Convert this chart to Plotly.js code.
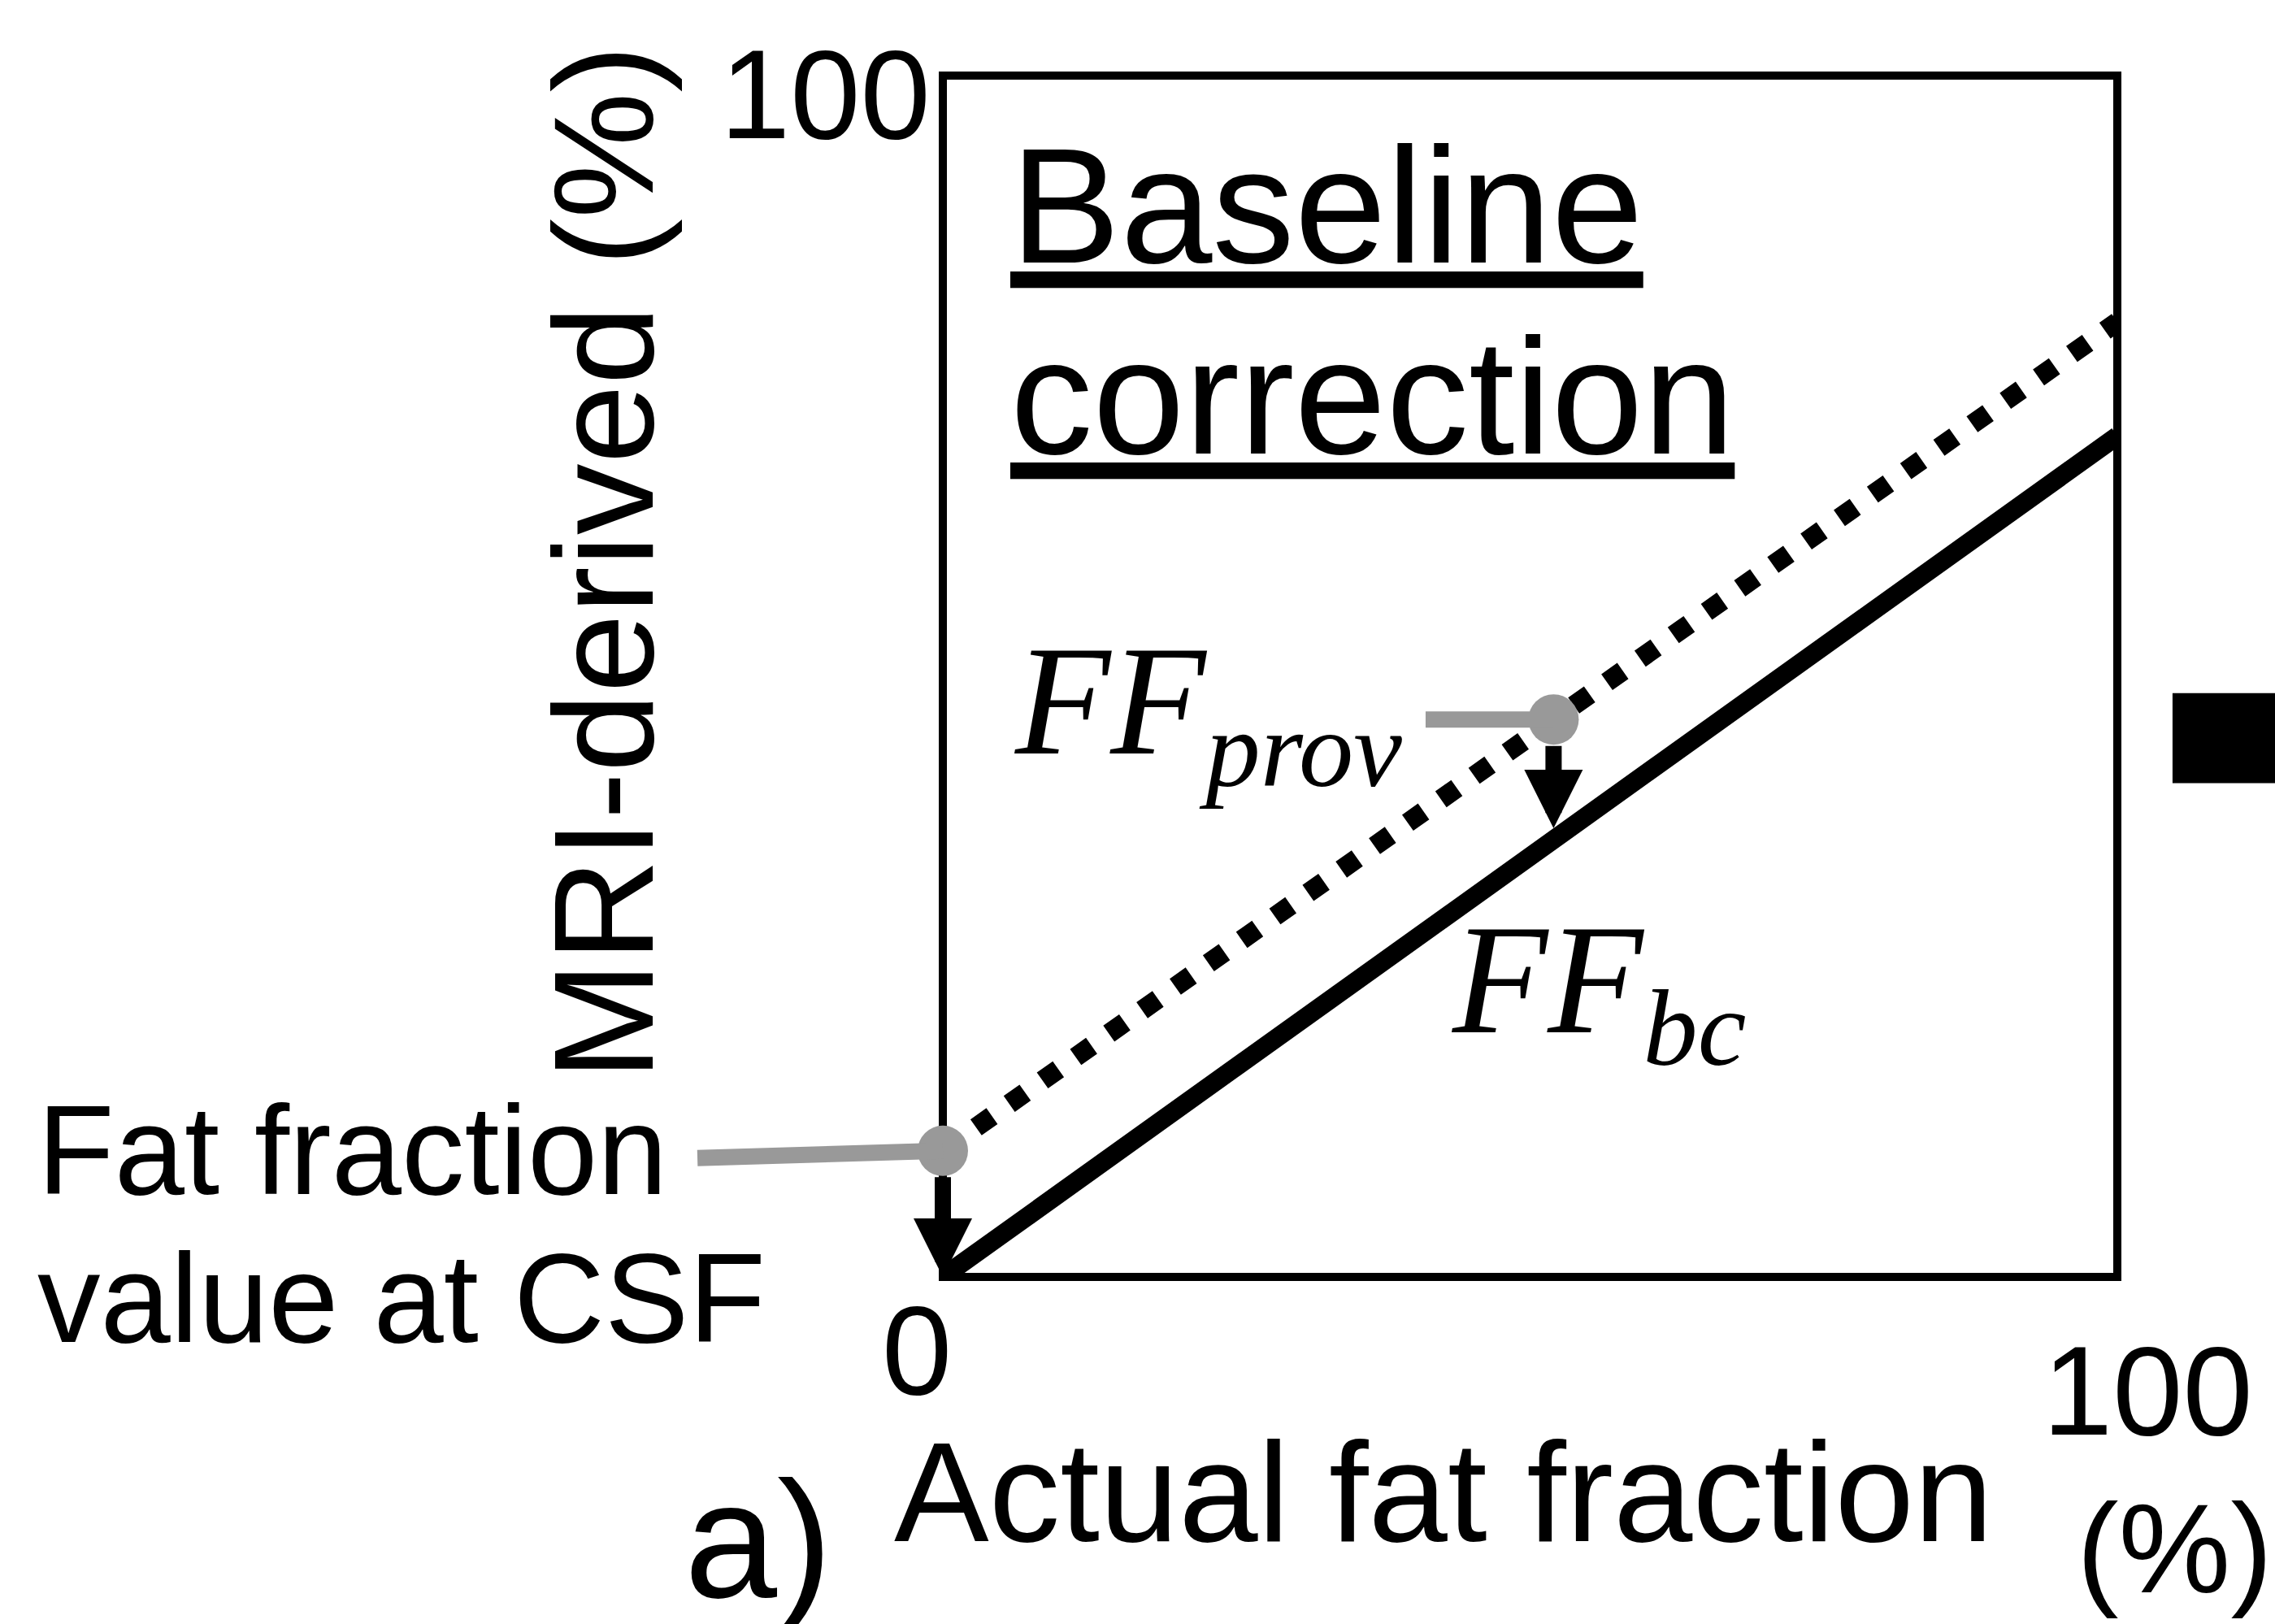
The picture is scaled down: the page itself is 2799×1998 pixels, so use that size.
<!DOCTYPE html>
<html>
<head>
<meta charset="utf-8">
<script src="https://cdn.plot.ly/plotly-3.0.1.min.js"></script>
<style>html,body{margin:0;padding:0;background:#fff;}#chart{width:2799px;height:1998px;}</style>
</head>
<body>
<div id="chart"></div>
<script>
// ---- data ----
const actualFF = [0, 100];                 // actual fat fraction (%)
const provisionalFF = [10.5, 79.5];        // MRI-derived provisional FF (dotted)
const correctedFF = [0, 70];               // baseline-corrected FF (solid)
const markerX = [0, 52];                   // grey reference points (actual FF)
const markerY = [10.5, 46.4];              // grey reference points on dotted line
const arrowTipY = [0, 36.4];               // corrected values below the points
const xTickVals = [0, 100];
const xTickText = ['0', '100'];
const yTickVals = [100];
const yTickText = ['100'];

const SANS = 'Liberation Sans, Arial, sans-serif';
const SERIF = 'Liberation Serif, Times New Roman, serif';
const GREY = '#999999';

const traces = [
  {x: actualFF, y: correctedFF, mode: 'lines', line: {color: '#000', width: 23}, hoverinfo: 'skip'},
  {x: actualFF, y: provisionalFF, mode: 'lines', line: {color: '#000', width: 24, dash: '24px,26px'}, hoverinfo: 'skip'},
  {x: markerX, y: markerY, mode: 'markers', marker: {color: GREY, size: 62}, cliponaxis: false, hoverinfo: 'skip'}
];

function txt(x, y, text, size, extra) {
  return Object.assign({x: x, y: y, text: text, showarrow: false, xanchor: 'center', yanchor: 'middle',
    font: {family: SANS, size: size, color: '#000'}}, extra || {});
}

const annotations = [
  // grey leader lines
  {x: markerX[0], y: markerY[0], ax: -21, ay: markerY[0] - 0.6, xref: 'x', yref: 'y', axref: 'x', ayref: 'y',
   showarrow: true, arrowhead: 0, arrowwidth: 20, arrowcolor: GREY, standoff: 0, text: ''},
  {x: markerX[1], y: markerY[1], ax: 41, ay: markerY[1], xref: 'x', yref: 'y', axref: 'x', ayref: 'y',
   showarrow: true, arrowhead: 0, arrowwidth: 20, arrowcolor: GREY, standoff: 0, text: ''},
  // black correction arrows
  {x: markerX[0], y: arrowTipY[0], ax: markerX[0], ay: markerY[0], xref: 'x', yref: 'y', axref: 'x', ayref: 'y',
   showarrow: true, arrowhead: 2, arrowsize: 0.72, arrowwidth: 20, arrowcolor: '#000', standoff: 0, startstandoff: 31, text: ''},
  {x: markerX[1], y: arrowTipY[1], ax: markerX[1], ay: markerY[1], xref: 'x', yref: 'y', axref: 'x', ayref: 'y',
   showarrow: true, arrowhead: 2, arrowsize: 0.72, arrowwidth: 20, arrowcolor: '#000', standoff: 14, startstandoff: 31, text: ''},
  // tick labels
  txt(xTickVals[0], 0, xTickText[0], 155, {xref: 'x', yref: 'y', xshift: -32, yshift: -90}),
  txt(xTickVals[1], 0, xTickText[1], 155, {xref: 'x', yref: 'y', xshift: 37, yshift: -140}),
  txt(0, yTickVals[0], yTickText[0], 155, {xref: 'x', yref: 'y', xshift: -145, yshift: -23}),
  // axis titles
  txt(0.426, -0.179, 'Actual fat fraction', 175, {xref: 'paper', yref: 'paper'}),
  txt(1.049, -0.226, '(%)', 155, {xref: 'paper', yref: 'paper'}),
  txt(-0.289, 0.595, 'MRI-derived (%)', 175, {xref: 'paper', yref: 'paper', textangle: -90}),
  txt(-0.157, -0.218, 'a)', 205, {xref: 'paper', yref: 'paper'}),
  // panel title
  txt(5.6, 89.2, '<u>Baseline</u>', 203, {xref: 'x', yref: 'y', xanchor: 'left'}),
  txt(5.6, 73.3, '<u>correction</u>', 203, {xref: 'x', yref: 'y', xanchor: 'left'}),
  // FF labels
  txt(5.9, 47.0, '<i>FF<sub>prov</sub></i>', 192, {xref: 'x', yref: 'y', xanchor: 'left', font: {family: SERIF, size: 192, color: '#000'}}),
  txt(43.1, 23.8, '<i>FF<sub>bc</sub></i>', 192, {xref: 'x', yref: 'y', xanchor: 'left', font: {family: SERIF, size: 192, color: '#000'}}),
  // left label
  txt(-0.772, 0.105, 'Fat fraction', 155, {xref: 'paper', yref: 'paper', xanchor: 'left'}),
  txt(-0.772, -0.018, 'value at CSF', 155, {xref: 'paper', yref: 'paper', xanchor: 'left'})
];

const layout = {
  width: 2799, height: 1998,
  margin: {l: 1160, r: 194, t: 93, b: 427, pad: 0},
  paper_bgcolor: '#fff', plot_bgcolor: '#fff',
  showlegend: false,
  xaxis: {range: [0, 100], showgrid: false, zeroline: false, showline: false, showticklabels: false, ticks: '', fixedrange: true},
  yaxis: {range: [0, 100], showgrid: false, zeroline: false, showline: false, showticklabels: false, ticks: '', fixedrange: true},
  shapes: [
    {type: 'rect', xref: 'paper', yref: 'paper', x0: 0, x1: 1, y0: 0, y1: 1, line: {color: '#000', width: 10}, layer: 'below'},
    {type: 'rect', xref: 'paper', yref: 'paper', x0: 1.047, x1: 1.15, y0: 0.411, y1: 0.486, line: {width: 0}, fillcolor: '#000'}
  ],
  annotations: annotations
};

Plotly.newPlot('chart', traces, layout, {staticPlot: true, displayModeBar: false});
</script>
</body>
</html>
